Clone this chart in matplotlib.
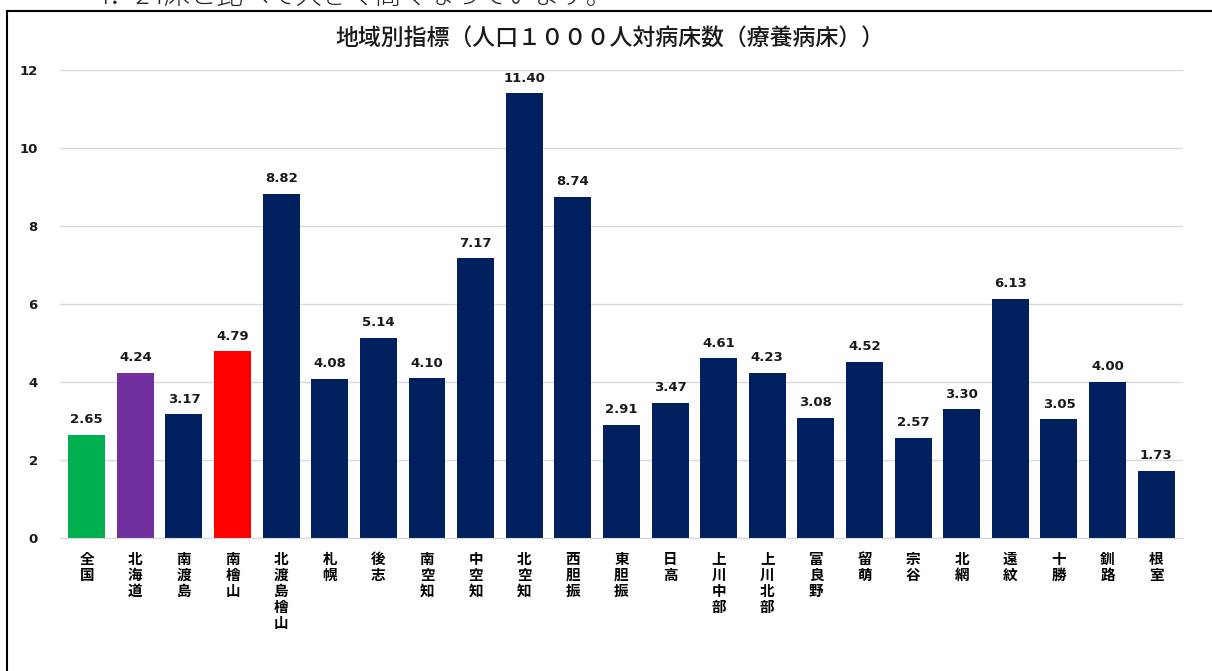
import matplotlib.pyplot as plt
from matplotlib.lines import Line2D

chiiki = ["全国", "北海道", "南渡島", "南檜山", "北渡島檜山", "札幌", "後志", "南空知",
          "中空知", "北空知", "西胆振", "東胆振", "日高", "上川中部", "上川北部", "富良野",
          "留萌", "宗谷", "北網", "遠紋", "十勝", "釧路", "根室"]
byosho = [2.65, 4.24, 3.17, 4.79, 8.82, 4.08, 5.14, 4.10, 7.17, 11.40, 8.74, 2.91,
          3.47, 4.61, 4.23, 3.08, 4.52, 2.57, 3.30, 6.13, 3.05, 4.00, 1.73]
kolory_spec = {"全国": "#00B050", "北海道": "#7030A0", "南檜山": "#FF0000"}
y_ticks = [0, 2, 4, 6, 8, 10, 12]

kolory = [kolory_spec.get(c, "#002060") for c in chiiki]
cjk = ["Noto Sans CJK JP", "DejaVu Sans"]

fig = plt.figure(figsize=(12.12, 6.71), dpi=100)
ax = fig.add_axes([0.0495, 0.198, 0.9265, 0.698])

x = list(range(len(chiiki)))
ax.bar(x, byosho, width=0.76, color=kolory, zorder=3)

for xi, v in zip(x, byosho):
    ax.text(xi, v + 0.22, f"{v:.2f}", ha="center", va="bottom",
            fontsize=9.5, fontweight="bold", family="DejaVu Sans", color="#1a1a1a")

ax.set_xlim(-0.55, len(chiiki) - 0.45)
ax.set_ylim(0, 12)
ax.set_yticks(y_ticks)
ax.set_yticklabels([str(t) for t in y_ticks], fontsize=9.5, fontweight="bold", color="#1a1a1a")
ax.tick_params(axis="y", length=0, pad=16)
ax.set_xticks(x)
ax.set_xticklabels(["\n".join(c) for c in chiiki], family=cjk, fontsize=10.5,
                   fontweight="bold", va="top", linespacing=1.0)
ax.tick_params(axis="x", length=0, pad=9)
ax.grid(axis="y", color="#D9D9D9", linewidth=1, zorder=0)
for s in ["top", "right", "left"]:
    ax.spines[s].set_visible(False)
ax.spines["bottom"].set_color("#D9D9D9")
ax.spines["bottom"].set_zorder(4)

fig.text(0.503, 1 - 38 / 671, "地域別指標（人口１０００人対病床数（療養病床））",
         ha="center", va="center", fontsize=16.5, family=cjk, fontweight="medium",
         color="#1a1a1a")

fig.text(95 / 1212, 1 + 4 / 671, "4．24床と比べて大きく高くなっています。",
         ha="left", va="center", fontsize=19, family=cjk, fontweight="light", color="#222222")

fig.add_artist(Line2D([7 / 1212, 7 / 1212], [0, 1 - 11 / 671], transform=fig.transFigure,
                      color="black", linewidth=1.5))
fig.add_artist(Line2D([7 / 1212, 1], [1 - 11 / 671, 1 - 11 / 671], transform=fig.transFigure,
                      color="black", linewidth=1.5))

fig.savefig("out.png", dpi=100)
